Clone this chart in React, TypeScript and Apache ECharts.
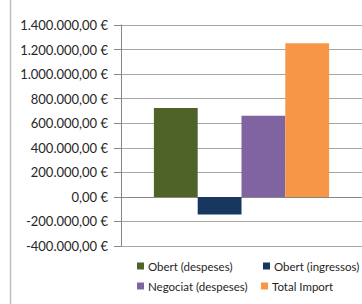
import React, { useEffect, useRef } from "react";
import * as echarts from "echarts";

const categories = [""];
const seriesNames = ["Obert (despeses)", "Obert (ingressos)", "Negociat (despeses)", "Total Import"];
const obertDespeses = [723000];
const obertIngressos = [-144000];
const negociatDespeses = [661000];
const totalImport = [1252000];
const seriesColors = ["#4F6228", "#17375E", "#8064A2", "#F79646"];

function fmt(v: number): string {
  const neg = v < 0;
  const a = Math.abs(v);
  const s = Math.round(a).toString().replace(/\B(?=(\d{3})+(?!\d))/g, ".");
  return (neg ? "-" : "") + s + ",00 €";
}

export default function App() {
  const ref = useRef<HTMLDivElement>(null);
  useEffect(() => {
    if (!ref.current) return;
    const chart = echarts.init(ref.current, undefined, { renderer: "svg" });
    const font = "Lato";
    const values = [obertDespeses, obertIngressos, negociatDespeses, totalImport];
    const legendPos = [
      { left: 137, top: 260 },
      { left: 263, top: 260 },
      { left: 137, top: 280 },
      { left: 261, top: 280 },
    ];
    chart.setOption({
      animation: false,
      backgroundColor: "#ffffff",
      textStyle: { fontFamily: font },
      grid: { left: 121, right: -1, top: 25, bottom: 58, containLabel: false },
      xAxis: {
        type: "category",
        data: categories,
        axisLine: { show: true, onZero: true, lineStyle: { color: "#868686", width: 1 } },
        axisTick: { show: false },
        axisLabel: { show: false },
        splitLine: { show: false },
      },
      yAxis: {
        type: "value",
        min: -400000,
        max: 1400000,
        interval: 200000,
        axisLine: { show: true, lineStyle: { color: "#868686", width: 1 } },
        axisTick: { show: true, length: 7, lineStyle: { color: "#868686" } },
        axisLabel: {
          margin: 13,
          color: "#262626",
          fontSize: 13,
          fontFamily: font,
          formatter: (v: number) => fmt(v),
        },
        splitLine: { show: true, lineStyle: { color: "#a6a6a6", width: 1 } },
      },
      legend: seriesNames.map((n, i) => ({
        data: [n],
        left: legendPos[i].left,
        top: legendPos[i].top,
        orient: "horizontal",
        itemWidth: 7,
        itemHeight: 7,
        itemGap: 4,
        padding: 0,
        icon: "rect",
        textStyle: { fontSize: 11.5, color: "#262626", fontFamily: font, padding: [0, 0, 0, -1] },
      })),
      series: seriesNames.map((n, i) => ({
        name: n,
        type: "bar",
        data: values[i],
        itemStyle: { color: seriesColors[i] },
        barGap: "0%",
        barCategoryGap: "27.3%",
      })),
      graphic: [
        {
          type: "line",
          shape: { x1: 10.5, y1: 0, x2: 10.5, y2: 304 },
          style: { stroke: "#bfbfbf", lineWidth: 1.5 },
        },
      ],
    });
    return () => chart.dispose();
  }, []);
  return (
    <div
      ref={ref}
      style={{ position: "fixed", left: 0, top: 0, width: 362, height: 304 }}
    />
  );
}
